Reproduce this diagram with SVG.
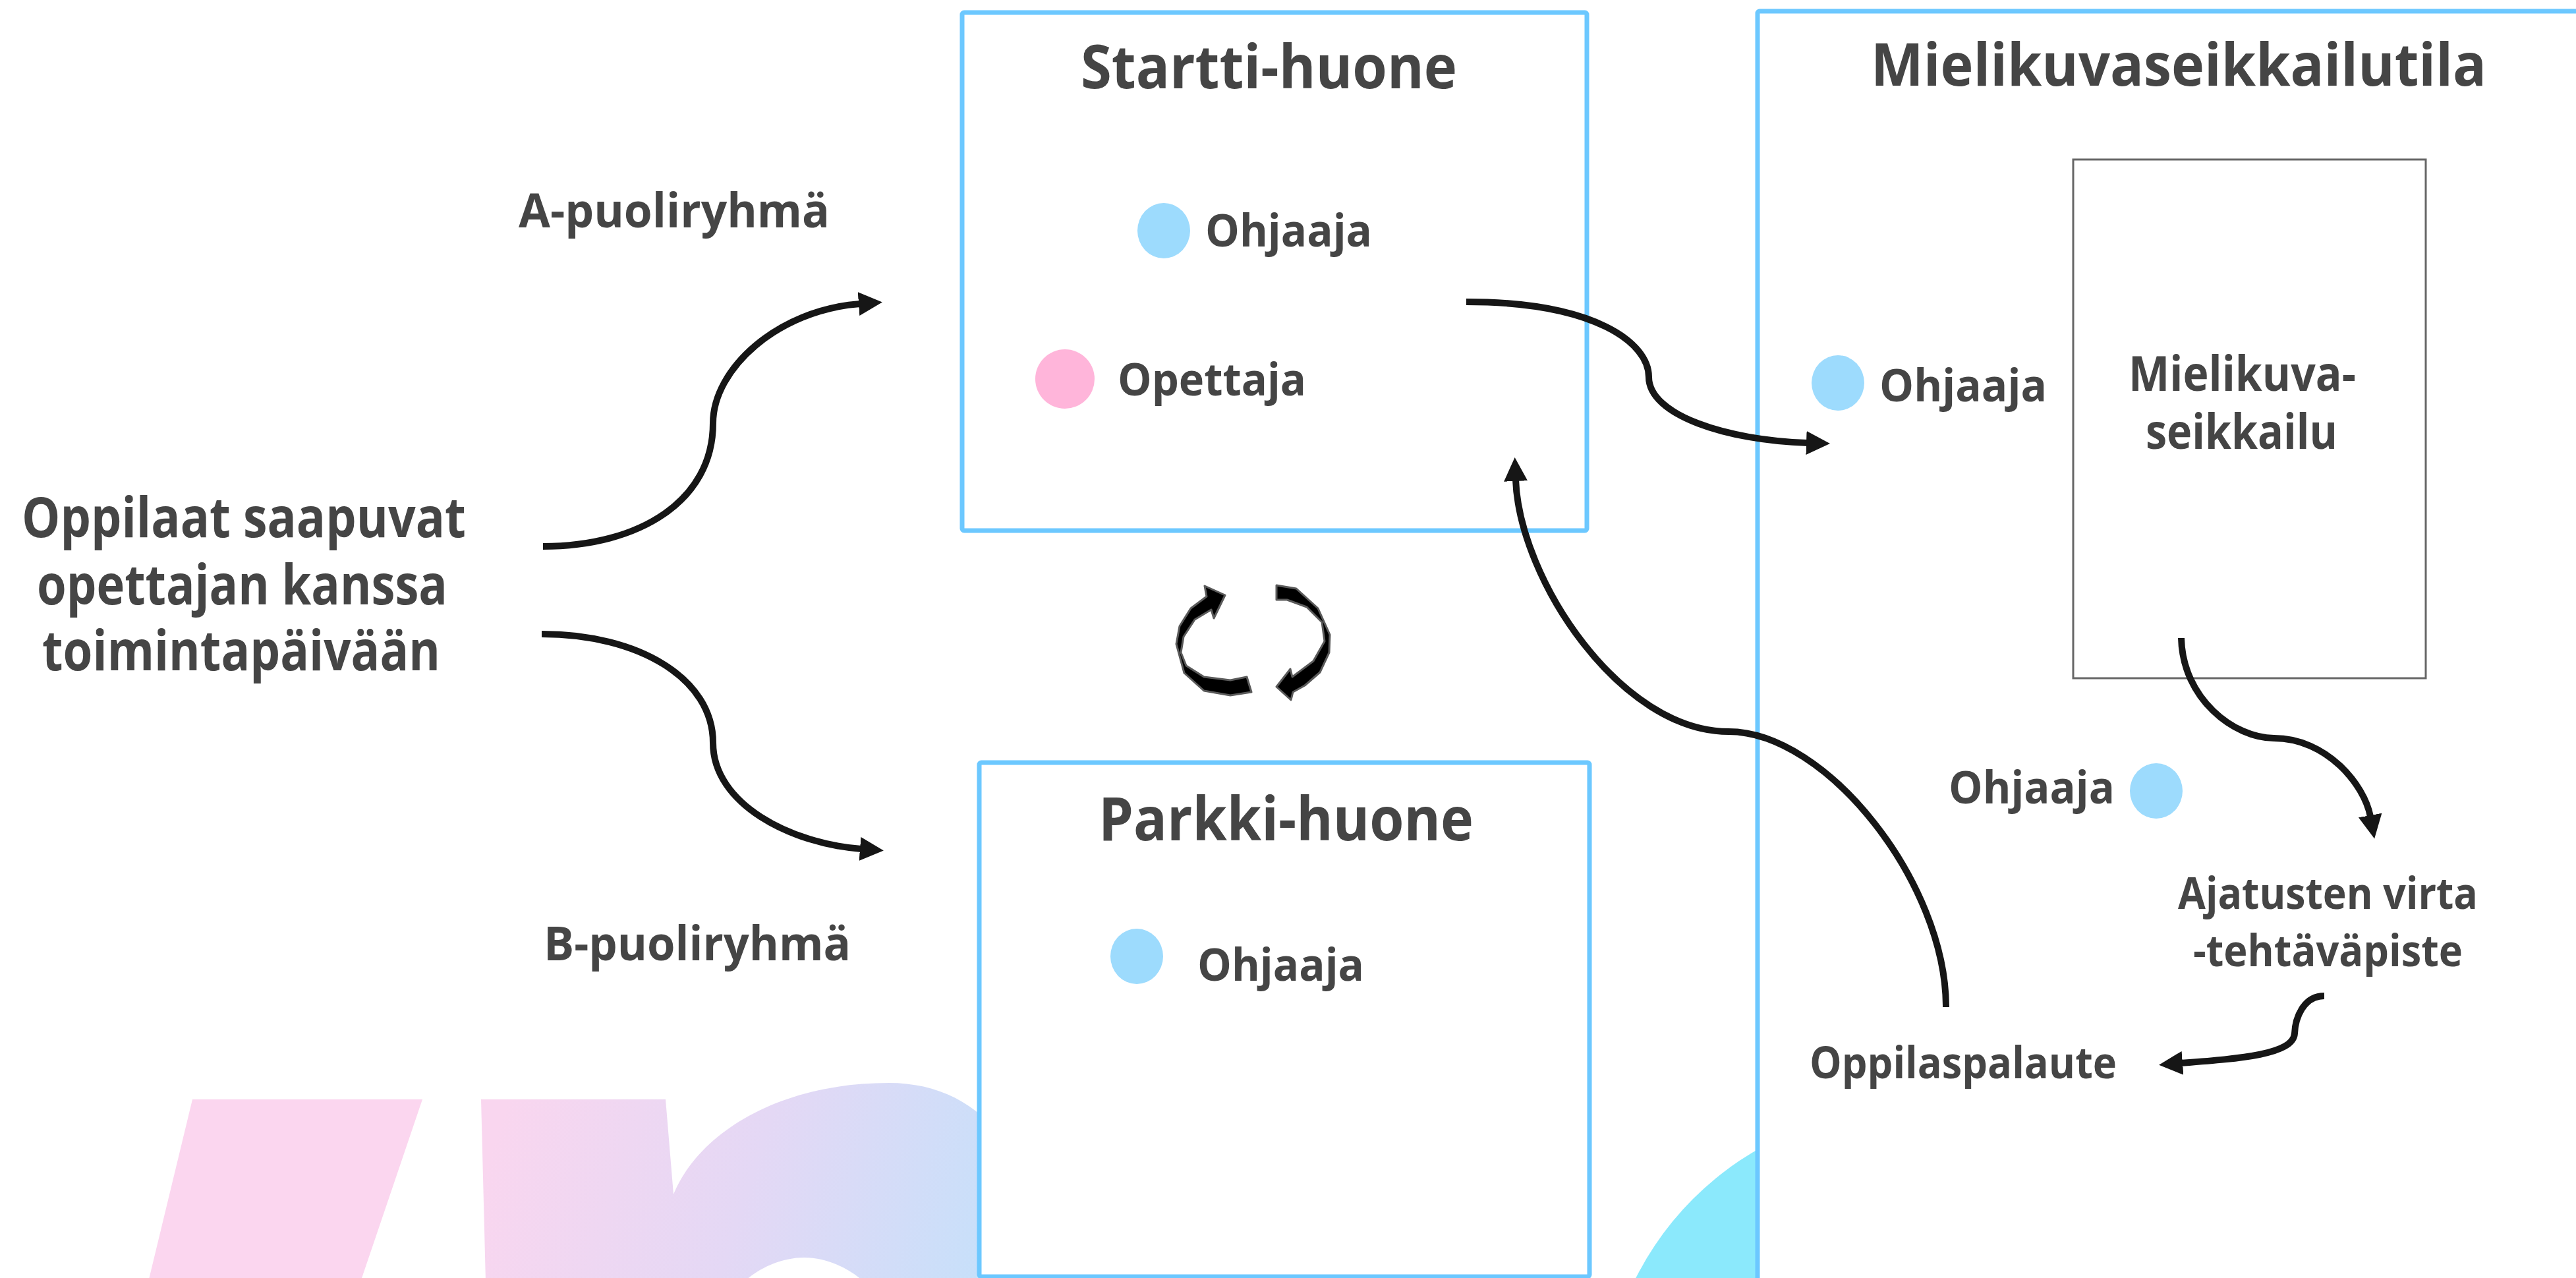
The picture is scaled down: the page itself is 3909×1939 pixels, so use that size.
<svg xmlns="http://www.w3.org/2000/svg" width="3909" height="1939" viewBox="0 0 3909 1939">
<style>
.t { font-family: "Open Sans", "Noto Sans", "DejaVu Sans", sans-serif; font-weight: 700; fill: #454545; }
.box { fill: #ffffff; stroke: #6cc8ff; stroke-width: 7; stroke-linejoin: round; }
.inner { fill: none; stroke: #666666; stroke-width: 3; }
.conn { fill: none; stroke: #161616; stroke-width: 10; marker-end: url(#ah); }
.line { fill: none; stroke: #161616; stroke-width: 10; }
.blue { fill: #9ddbfd; }
.pink { fill: #ffb5da; }
.cyc { fill: #000000; stroke: #5a5a5a; stroke-width: 3; stroke-linejoin: round; }
</style>
<defs>
<marker id="ah" markerUnits="userSpaceOnUse" viewBox="0 -20 40 40" markerWidth="40" markerHeight="40" refX="2" refY="0" orient="auto">
<path d="M0,-18 L36,0 L0,18 Z" fill="#161616"/>
</marker>
<linearGradient id="wm" gradientUnits="userSpaceOnUse" x1="760" y1="1700" x2="1500" y2="1939">
<stop offset="0" stop-color="#f9d6ef"/>
<stop offset="0.5" stop-color="#e4d8f5"/>
<stop offset="1" stop-color="#c6e0fa"/>
</linearGradient>
</defs>
<rect width="3909" height="1939" fill="#ffffff"/>
<g id="watermark">
<polygon points="292,1668 641,1668 547,1945 225,1945" fill="#fbd6ef"/>
<path d="M730,1668 L1010,1668 L1022,1812 C1060,1720 1180,1643 1349,1643 C1430,1643 1500,1680 1540,1760 L1560,1945 L1311,1945 C1290,1925 1255,1908 1220,1908 C1185,1908 1150,1925 1129,1945 L737,1945 Z" fill="url(#wm)"/>
<circle cx="2900" cy="2150" r="468" fill="#8be9fc"/>
</g>
<g id="left-text">
<text class="t" x="33" y="815" font-size="84" textLength="674" lengthAdjust="spacingAndGlyphs">Oppilaat saapuvat</text>
<text class="t" x="56" y="917" font-size="84" textLength="623" lengthAdjust="spacingAndGlyphs">opettajan kanssa</text>
<text class="t" x="64" y="1017" font-size="84" textLength="604" lengthAdjust="spacingAndGlyphs">toimintapäivään</text>
</g>
<g id="label-a">
<text class="t" x="787" y="345" font-size="72" textLength="472" lengthAdjust="spacingAndGlyphs">A-puoliryhmä</text>
</g>
<g id="label-b">
<text class="t" x="825" y="1457" font-size="72" textLength="466" lengthAdjust="spacingAndGlyphs">B-puoliryhmä</text>
</g>
<g id="startti-huone">
<rect class="box" x="1460" y="19" width="948" height="786" rx="3"/>
<text class="t" x="1640" y="134" font-size="92" textLength="571" lengthAdjust="spacingAndGlyphs">Startti-huone</text>
<ellipse class="blue" cx="1766" cy="350" rx="40" ry="42"/>
<text class="t" x="1829" y="374" font-size="68" textLength="253" lengthAdjust="spacingAndGlyphs">Ohjaaja</text>
<ellipse class="pink" cx="1616" cy="575" rx="45" ry="45"/>
<text class="t" x="1696" y="600" font-size="68" textLength="286" lengthAdjust="spacingAndGlyphs">Opettaja</text>
</g>
<g id="parkki-huone">
<rect class="box" x="1486" y="1157" width="926" height="780" rx="3"/>
<text class="t" x="1667" y="1275" font-size="92" textLength="569" lengthAdjust="spacingAndGlyphs">Parkki-huone</text>
<ellipse class="blue" cx="1725" cy="1451" rx="40" ry="42"/>
<text class="t" x="1817" y="1488" font-size="68" textLength="253" lengthAdjust="spacingAndGlyphs">Ohjaaja</text>
</g>
<g id="mielikuvaseikkailutila">
<rect class="box" x="2667" y="17" width="1400" height="2000" rx="3"/>
<text class="t" x="2839" y="130" font-size="89" textLength="934" lengthAdjust="spacingAndGlyphs">Mielikuvaseikkailutila</text>
<ellipse class="blue" cx="2789" cy="581" rx="40" ry="42"/>
<text class="t" x="2852" y="609" font-size="68" textLength="254" lengthAdjust="spacingAndGlyphs">Ohjaaja</text>
<ellipse class="blue" cx="3272" cy="1200" rx="40" ry="42"/>
<text class="t" x="2957" y="1219" font-size="68" textLength="252" lengthAdjust="spacingAndGlyphs">Ohjaaja</text>
</g>
<g id="mielikuvaseikkailu">
<rect class="inner" x="3146" y="242" width="535" height="787"/>
<text class="t" x="3230" y="593" font-size="74" textLength="345" lengthAdjust="spacingAndGlyphs">Mielikuva-</text>
<text class="t" x="3256" y="681" font-size="74" textLength="291" lengthAdjust="spacingAndGlyphs">seikkailu</text>
</g>
<g id="ajatusten-virta">
<text class="t" x="3305" y="1379" font-size="66" textLength="455" lengthAdjust="spacingAndGlyphs">Ajatusten virta</text>
<text class="t" x="3328" y="1466" font-size="66" textLength="409" lengthAdjust="spacingAndGlyphs">-tehtäväpiste</text>
</g>
<g id="oppilaspalaute">
<text class="t" x="2746" y="1636" font-size="66" textLength="466" lengthAdjust="spacingAndGlyphs">Oppilaspalaute</text>
</g>
<g id="cycle">
<path class="cyc" d="M1892,1027 L1899,1050 L1867,1055 L1827,1048 L1797,1021 L1785,977 L1790,950 L1807,923 L1831,905 L1828,889 L1859,903 L1842,938 L1838,925 L1813,940 L1796,966 L1792,990 L1800,1010 L1827,1027 L1867,1032 Z"/>
<path class="cyc" d="M1937,888 L1967,893 L2000,923 L2018,963 L2017,990 L2003,1020 L1980,1040 L1962,1050 L1959,1062 L1937,1042 L1958,1015 L1961,1027 L1993,1003 L2010,973 L2006,944 L1983,921 L1953,910 L1937,910 Z"/>
</g>
<g id="connectors">
<path class="conn" d="M824,829 C970,829 1082,760 1082,642 C1082,560 1180,470 1305,461"/>
<path class="conn" d="M822,962 C970,962 1082,1030 1082,1127 C1082,1220 1200,1280 1307,1288"/>
<path class="conn" d="M2225,458 C2420,458 2502,520 2502,572 C2502,630 2620,668 2743,672"/>
<path class="conn" d="M2953,1528 C2953,1340 2772,1110 2623,1110 C2460,1110 2306,880 2300,728"/>
<path class="conn" d="M3310,968 C3312,1060 3390,1120 3451,1120 C3530,1120 3588,1190 3597,1239"/>
<path class="conn" d="M3527,1511 C3495,1511 3483,1545 3482,1568 C3480,1600 3400,1606 3310,1613"/>
</g>
</svg>
